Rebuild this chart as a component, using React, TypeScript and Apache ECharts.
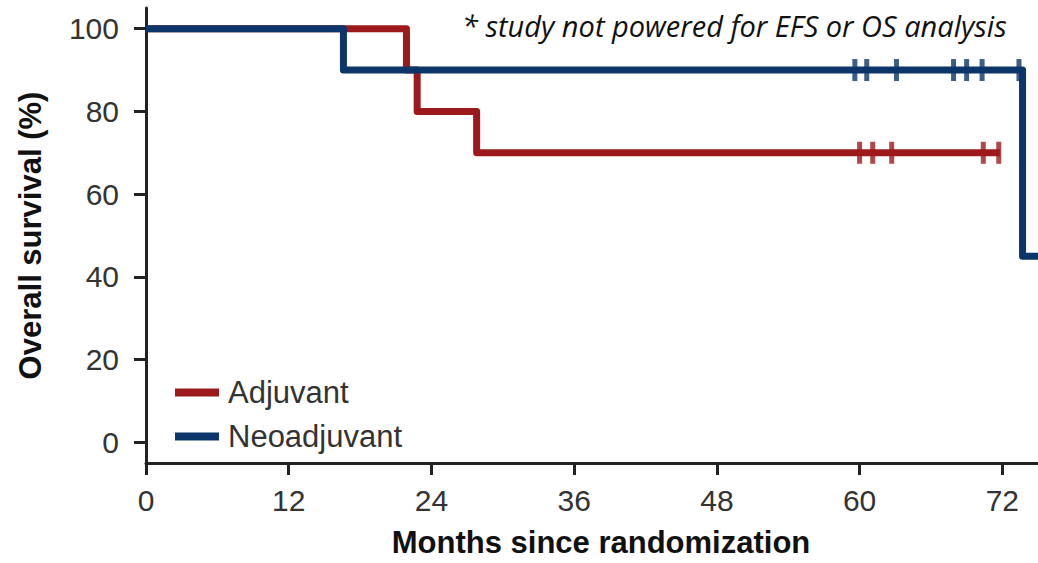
import React, { useEffect, useRef } from "react";
import * as echarts from "echarts";

// Kaplan–Meier step points [month, survival %]
const adjuvantSteps: [number, number][] = [
  [0, 100],
  [21.9, 90],
  [22.8, 80],
  [27.8, 70],
  [71.8, 70],
];
const neoadjuvantSteps: [number, number][] = [
  [0, 100],
  [16.6, 90],
  [73.7, 45],
  [75, 45],
];
// Censor marks (months) and the level they sit on
const adjuvantCensor: number[] = [60.0, 61.1, 62.7, 70.4, 71.7];
const adjuvantCensorLevel = 70;
const neoadjuvantCensor: number[] = [59.6, 60.6, 63.1, 67.9, 69.0, 70.3, 73.4];
const neoadjuvantCensorLevel = 90;

const xTicks: number[] = [0, 12, 24, 36, 48, 60, 72];
const yTicks: number[] = [0, 20, 40, 60, 80, 100];

const seriesNames = ["Adjuvant", "Neoadjuvant"];
const RED = "#9c1a1c";
const BLUE = "#0c3669";

export default function App() {
  const ref = useRef<HTMLDivElement>(null);
  useEffect(() => {
    if (!ref.current) return;
    const chart = echarts.init(ref.current, undefined, { renderer: "svg" });
    const font = "Liberation Sans, Arial, Helvetica, sans-serif";
    chart.setOption({
      animation: false,
      grid: { left: 146, right: 0, top: 8, bottom: 100, containLabel: false },
      legend: {
        data: seriesNames,
        orient: "vertical",
        left: 170,
        top: 371,
        icon: "rect",
        itemWidth: 44,
        itemHeight: 8,
        itemGap: 11,
        textStyle: {
          fontFamily: font,
          fontSize: 31,
          lineHeight: 33,
          color: "#333",
          padding: [0, 0, 0, 4],
        },
      },
      xAxis: {
        type: "value",
        min: 0,
        max: 75,
        name: "Months since randomization",
        nameLocation: "middle",
        nameGap: 64,
        nameTextStyle: {
          fontFamily: font,
          fontSize: 31,
          fontWeight: "bold",
          color: "#111",
          padding: [0, 0, 0, 18],
        },
        axisLine: { show: true, onZero: false, lineStyle: { color: "#222", width: 3 } },
        axisTick: {
          show: true,
          length: 12,
          lineStyle: { color: "#222", width: 3 },
          customValues: xTicks,
        },
        axisLabel: {
          customValues: xTicks,
          fontFamily: font,
          fontSize: 30,
          color: "#333",
          margin: 22,
        },
        splitLine: { show: false },
      },
      yAxis: {
        type: "value",
        min: -5,
        max: 105,
        name: "Overall survival (%)",
        nameLocation: "middle",
        nameGap: 100,
        nameTextStyle: {
          fontFamily: font,
          fontSize: 31,
          fontWeight: "bold",
          color: "#111",
        },
        axisLine: { show: true, onZero: false, lineStyle: { color: "#222", width: 3 } },
        axisTick: {
          show: true,
          length: 12,
          lineStyle: { color: "#222", width: 3 },
          customValues: yTicks,
        },
        axisLabel: {
          customValues: yTicks,
          fontFamily: font,
          fontSize: 30,
          color: "#333",
          margin: 27,
        },
        splitLine: { show: false },
      },
      graphic: [
        {
          type: "text",
          left: 462,
          top: 11,
          style: {
            text: "* study not powered for EFS or OS analysis",
            fontFamily: "Open Sans, Noto Sans, sans-serif",
            fontStyle: "italic",
            fontSize: 29,
            fill: "#111",
          },
        },
      ],
      series: [
        {
          name: seriesNames[0],
          type: "line",
          step: "end",
          data: adjuvantSteps,
          showSymbol: false,
          symbol: "none",
          color: RED,
          lineStyle: { color: RED, width: 7, join: "round" },
          z: 2,
        },
        {
          name: "Adjuvant censored",
          type: "scatter",
          data: adjuvantCensor.map((m) => [m, adjuvantCensorLevel]),
          symbol: "rect",
          symbolSize: [5, 22],
          itemStyle: { color: RED },
          z: 2,
        },
        {
          name: seriesNames[1],
          type: "line",
          step: "end",
          data: neoadjuvantSteps,
          showSymbol: false,
          symbol: "none",
          color: BLUE,
          lineStyle: { color: BLUE, width: 7, join: "round" },
          z: 3,
        },
        {
          name: "Neoadjuvant censored",
          type: "scatter",
          data: neoadjuvantCensor.map((m) => [m, neoadjuvantCensorLevel]),
          symbol: "rect",
          symbolSize: [5, 22],
          itemStyle: { color: BLUE },
          z: 3,
        },
      ],
    });
    return () => chart.dispose();
  }, []);
  return <div ref={ref} style={{ width: 1038, height: 563, position: "absolute", left: 0, top: 0 }} />;
}
